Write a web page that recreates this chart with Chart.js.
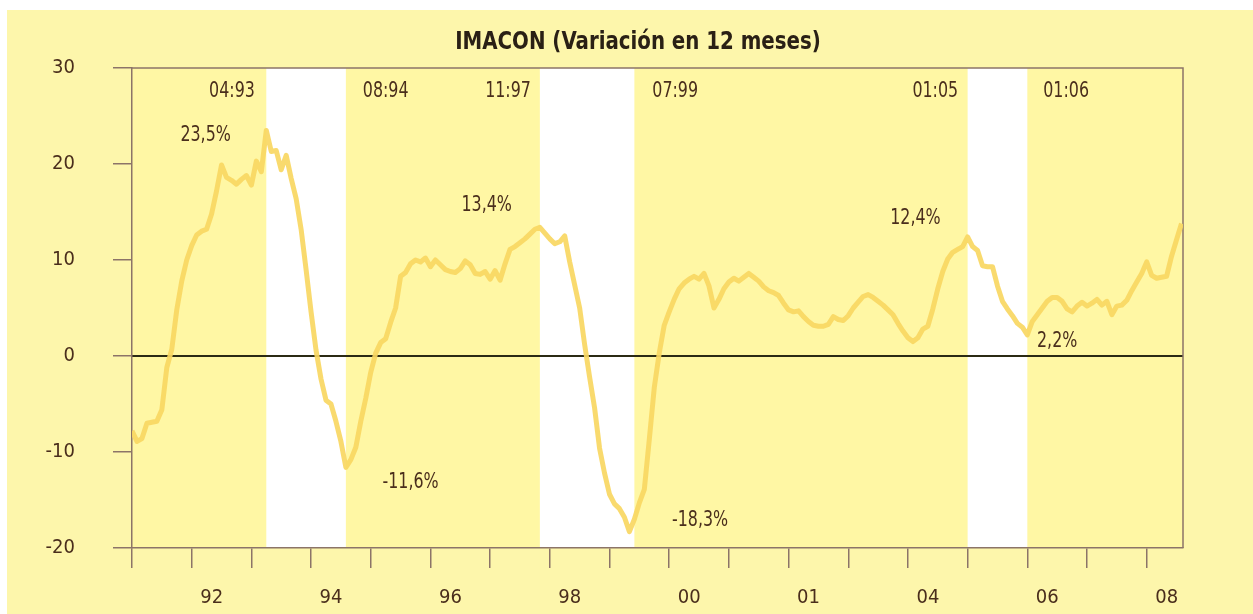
<!DOCTYPE html>
<html>
<head>
<meta charset="utf-8">
<script src="https://cdn.jsdelivr.net/npm/chart.js@4"></script>
<style>
  html, body { margin: 0; padding: 0; background: #ffffff; }
  #wrap { position: relative; width: 1253px; height: 614px; }
</style>
</head>
<body>
<div id="wrap"><canvas id="imaconChart"></canvas></div>
<script>
// IMACON, variacion en 12 meses, monthly from ene-1991 to ago-2008
const values = [
    -7.8, -8.9, -8.6, -7.0, -6.9, -6.8, -5.6, -1.2, 0.7, 4.8, 7.8, 10.0,      // 1991
    11.5, 12.6, 13.0, 13.2, 14.8, 17.2, 19.9, 18.6, 18.3, 17.9, 18.4, 18.8,   // 1992
    17.8, 20.3, 19.2, 23.5, 21.3, 21.4, 19.4, 20.9, 18.5, 16.4, 13.2, 9.0,    // 1993
    4.6, 0.6, -2.4, -4.6, -5.0, -6.8, -8.9, -11.6, -10.8, -9.5, -6.8, -4.4,   // 1994
    -1.7, 0.3, 1.4, 1.8, 3.5, 5.0, 8.3, 8.7, 9.6, 10.0, 9.8, 10.2,            // 1995
    9.3, 10.0, 9.5, 9.0, 8.8, 8.7, 9.1, 9.9, 9.5, 8.6, 8.5, 8.8,              // 1996
    8.0, 8.9, 7.9, 9.6, 11.1, 11.4, 11.8, 12.2, 12.7, 13.2, 13.4, 12.8,       // 1997
    12.2, 11.7, 11.9, 12.5, 9.8, 7.4, 5.0, 1.2, -2.2, -5.4, -9.6, -12.2,      // 1998
    -14.4, -15.4, -15.9, -16.8, -18.3, -17.0, -15.3, -13.9, -8.7, -3.3, 0.3, 3.2, // 1999
    4.6, 5.9, 7.0, 7.6, 8.0, 8.3, 8.0, 8.6, 7.3, 5.0, 5.9, 7.0,               // 2000
    7.7, 8.1, 7.8, 8.2, 8.6, 8.2, 7.8, 7.2, 6.8, 6.6, 6.3, 5.5,               // 2001
    4.8, 4.6, 4.7, 4.1, 3.6, 3.2, 3.1, 3.1, 3.3, 4.1, 3.8, 3.7,               // 2002
    4.2, 5.0, 5.6, 6.2, 6.4, 6.1, 5.7, 5.3, 4.8, 4.3, 3.4, 2.6,               // 2003
    1.9, 1.5, 1.9, 2.8, 3.1, 4.9, 7.0, 8.8, 10.1, 10.8, 11.1, 11.4,           // 2004
    12.4, 11.4, 11.0, 9.4, 9.3, 9.3, 7.3, 5.7, 4.9, 4.2, 3.4, 3.0,            // 2005
    2.2, 3.6, 4.3, 5.0, 5.7, 6.1, 6.1, 5.7, 4.9, 4.6, 5.2, 5.6,               // 2006
    5.2, 5.5, 5.9, 5.3, 5.7, 4.3, 5.2, 5.3, 5.8, 6.8, 7.7, 8.6,               // 2007
    9.8, 8.4, 8.1, 8.2, 8.3, 10.4, 12.1, 13.8                                 // 2008
];

// x tick labels, one every two years (as printed)
const xTickLabels = ['92', '94', '96', '98', '00', '01', '04', '06', '08'];

// unshaded periods, in months counted from ene-1991
const bandStart = [27, 82, 168];
const bandEnd = [43, 101, 180];

// text notes on the chart
const noteTexts = ['04:93', '08:94', '11:97', '07:99', '01:05', '01:06',
                   '23,5%', '13,4%', '12,4%', '-11,6%', '-18,3%', '2,2%'];
const noteMonths = [20.1, 51, 75.6, 109.2, 161.5, 187.8, 14.8, 71.3, 157.5, 56, 114.2, 186];
const noteValues = [27.5, 27.5, 27.5, 27.5, 27.5, 27.5, 23.0, 15.7, 14.3, -13.2, -17.1, 1.5];

const axisColor = '#8c7468';
const textColor = '#4a2e1c';
const fontFamily = "'Liberation Sans Narrow', 'DejaVu Sans Condensed', 'Arial Narrow', sans-serif";

Chart.defaults.font.family = fontFamily;

// narrow text, the print uses a condensed face
function narrowText(ctx, text, x, y, squeeze) {
    ctx.save();
    ctx.translate(x, y);
    ctx.scale(squeeze, 1);
    ctx.fillText(text, 0, 0);
    ctx.restore();
}

const backdrop = {
    id: 'backdrop',
    beforeDraw(chart) {
        const { ctx, chartArea: a, scales: { x, y } } = chart;
        ctx.save();
        ctx.fillStyle = '#ffffff';
        ctx.fillRect(0, 0, chart.width, chart.height);
        ctx.fillStyle = '#fdf6ab';
        ctx.fillRect(7, 10, chart.width - 7, chart.height - 10);
        ctx.fillStyle = '#fff7a4';
        ctx.fillRect(a.left, a.top, a.right - a.left, a.bottom - a.top);

        // white bands
        ctx.fillStyle = '#ffffff';
        bandStart.forEach((s, i) => {
            const x0 = x.getPixelForValue(s);
            const x1 = x.getPixelForValue(bandEnd[i]);
            ctx.fillRect(x0, a.top, x1 - x0, a.bottom - a.top);
        });

        // zero line
        const y0 = y.getPixelForValue(0);
        ctx.strokeStyle = '#2b2a14';
        ctx.lineWidth = 2;
        ctx.beginPath();
        ctx.moveTo(a.left, y0);
        ctx.lineTo(a.right, y0);
        ctx.stroke();

        // top and right frame
        ctx.strokeStyle = axisColor;
        ctx.lineWidth = 1.5;
        ctx.beginPath();
        ctx.moveTo(a.left, a.top);
        ctx.lineTo(a.right, a.top);
        ctx.lineTo(a.right, a.bottom);
        ctx.stroke();

        // title
        ctx.fillStyle = '#2a2015';
        ctx.font = "bold 25px " + fontFamily;
        ctx.textAlign = 'center';
        ctx.textBaseline = 'middle';
        narrowText(ctx, 'IMACON (Variación en 12 meses)', 638, 42, 0.88);
        ctx.restore();
    },
    afterDatasetsDraw(chart) {
        const { ctx, scales: { x, y } } = chart;
        ctx.save();
        ctx.fillStyle = textColor;
        ctx.font = "21px " + fontFamily;
        ctx.textAlign = 'center';
        ctx.textBaseline = 'middle';
        noteTexts.forEach((t, i) => {
            narrowText(ctx, t, x.getPixelForValue(noteMonths[i]), y.getPixelForValue(noteValues[i]), 0.84);
        });
        ctx.restore();
    }
};

new Chart(document.getElementById('imaconChart'), {
    type: 'line',
    data: {
        datasets: [{
            label: 'IMACON',
            data: values.map((v, i) => ({ x: i, y: v })),
            borderColor: 'rgba(249, 215, 98, 0.92)',
            borderWidth: 5,
            borderJoinStyle: 'round',
            pointRadius: 0,
            tension: 0,
            fill: false
        }]
    },
    options: {
        responsive: true,
        maintainAspectRatio: false,
        animation: false,
        events: [],
        layout: { padding: { top: 68, right: 70, left: 0, bottom: 0 } },
        plugins: {
            legend: { display: false },
            tooltip: { enabled: false },
            title: { display: false }
        },
        scales: {
            x: {
                type: 'linear',
                min: 0,
                max: 211.3,
                afterBuildTicks: axis => {
                    axis.ticks = Array.from({ length: 18 }, (_, i) => ({ value: i * 12 }));
                },
                afterFit: scale => { scale.height = 66; },
                grid: { drawOnChartArea: false, tickLength: 20, color: axisColor, lineWidth: 1.5 },
                border: { color: axisColor, width: 1.5 },
                ticks: {
                    autoSkip: false,
                    maxRotation: 0,
                    padding: 18,
                    labelOffset: 20,
                    color: textColor,
                    font: { size: 20 },
                    callback: value => (value % 24 === 12) ? xTickLabels[(value - 12) / 24] : ''
                }
            },
            y: {
                min: -20,
                max: 30,
                afterFit: scale => { scale.width = 132; },
                grid: { drawOnChartArea: false, tickLength: 19, color: axisColor, lineWidth: 1.5 },
                border: { color: axisColor, width: 1.5 },
                ticks: {
                    stepSize: 10,
                    padding: 38,
                    color: textColor,
                    font: { size: 20 }
                }
            }
        }
    },
    plugins: [backdrop]
});
</script>
</body>
</html>
